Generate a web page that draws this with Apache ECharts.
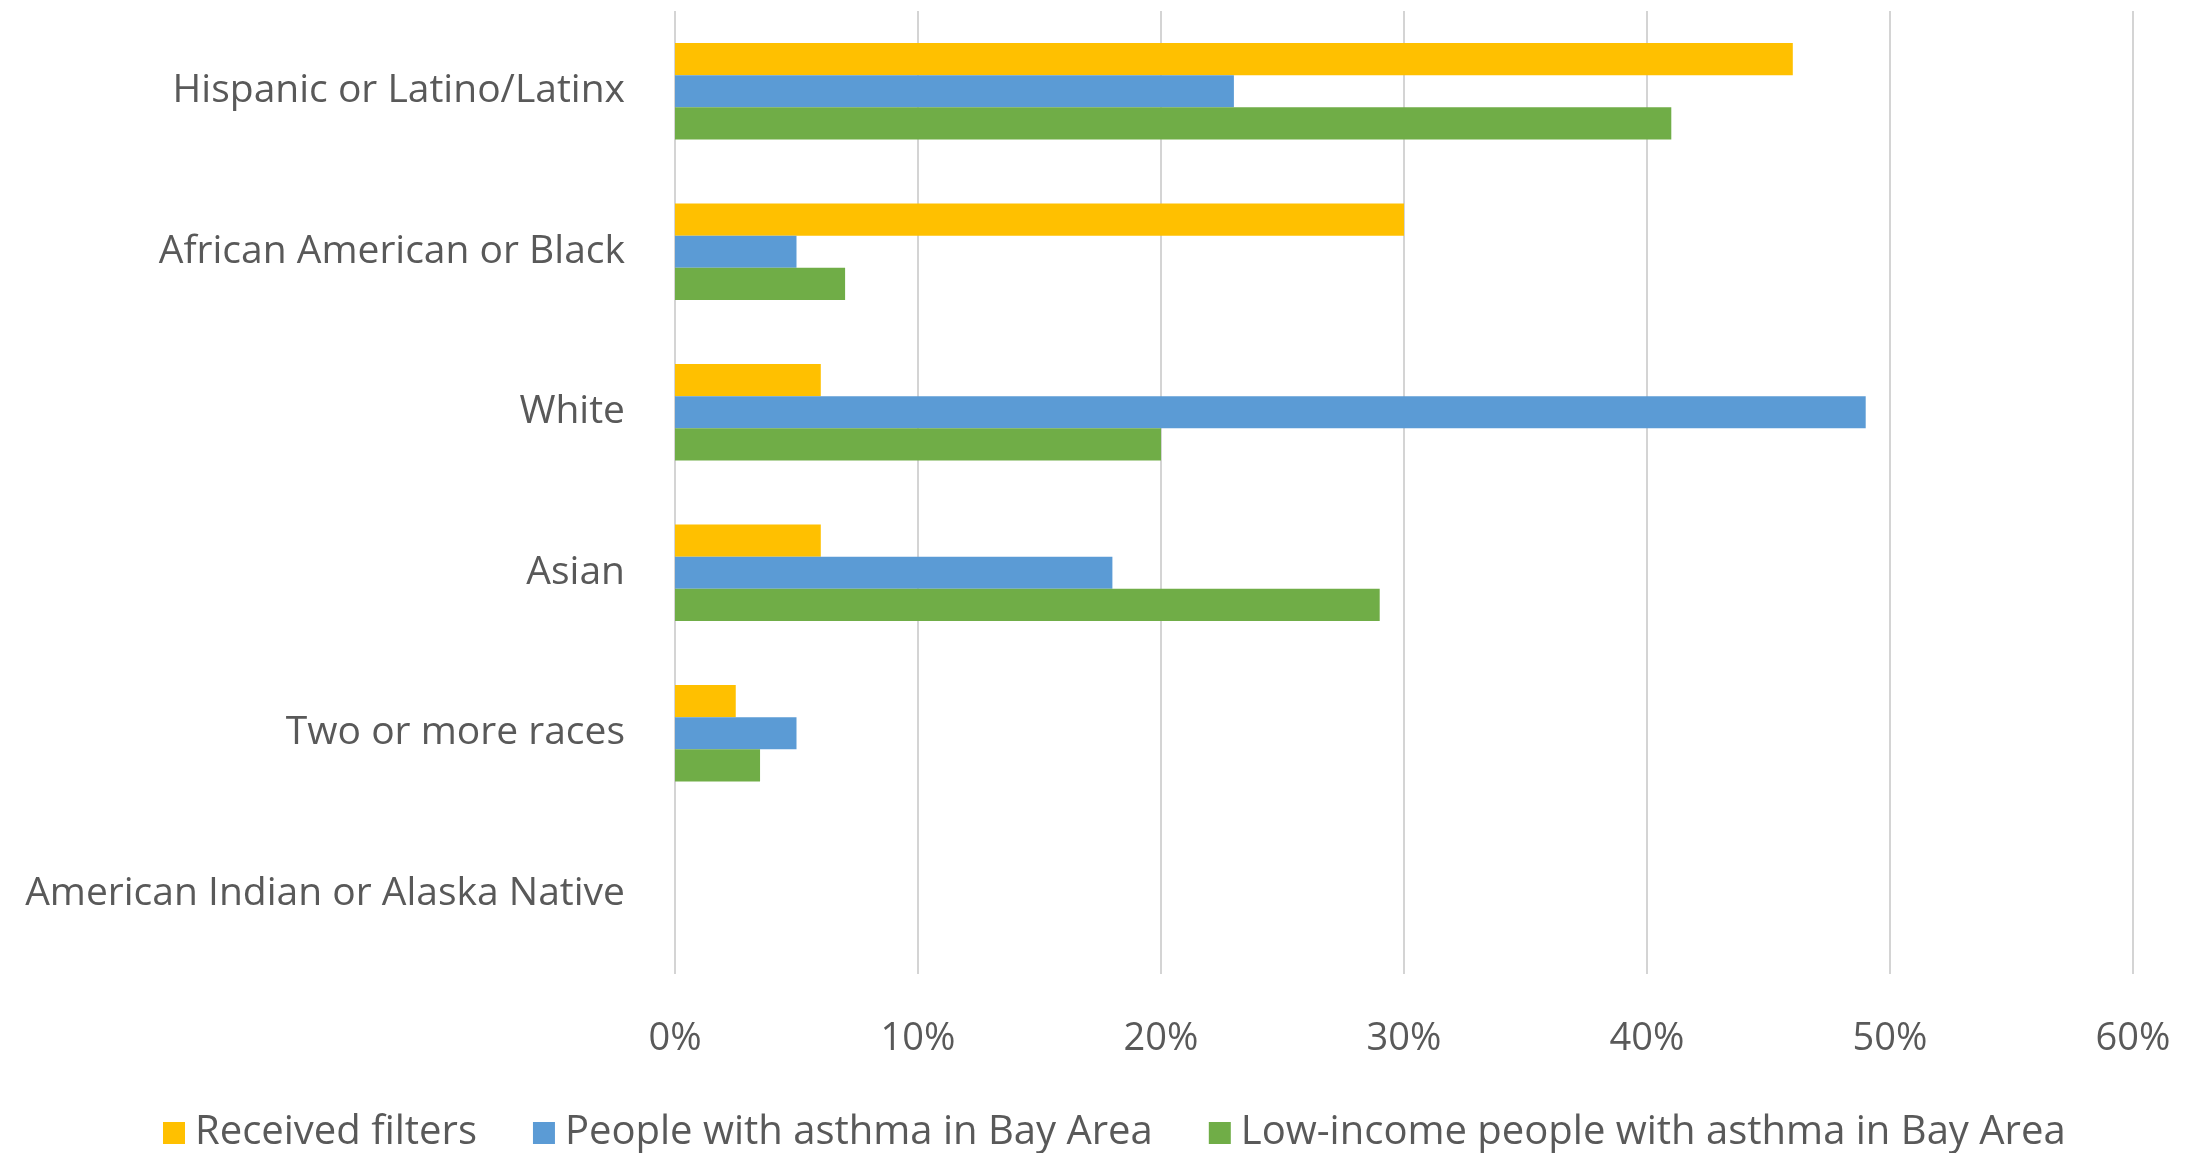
<!DOCTYPE html>
<html>
<head>
<meta charset="utf-8">
<title>Air filter distribution by race/ethnicity</title>
<script src="https://cdn.jsdelivr.net/npm/echarts@6/dist/echarts.min.js"></script>
<style>
  html, body { margin: 0; padding: 0; background: #ffffff; }
  #chart { width: 2203px; height: 1153px; }
</style>
</head>
<body>
<div id="chart"></div>
<script>
// Race / ethnicity groups, top to bottom
const categories = [
  'Hispanic or Latino/Latinx',
  'African American or Black',
  'White',
  'Asian',
  'Two or more races',
  'American Indian or Alaska Native'
];

// Shares in percent
const receivedFilters = [46, 30, 6, 6, 2.5, 0];
const asthmaBayArea = [23, 5, 49, 18, 5, 0];
const lowIncomeAsthmaBayArea = [41, 7, 20, 29, 3.5, 0];

const seriesNames = [
  'Received filters',
  'People with asthma in Bay Area',
  'Low-income people with asthma in Bay Area'
];
const xTicks = [0, 10, 20, 30, 40, 50, 60];

const colors = ['#FFC000', '#5B9BD5', '#70AD47'];
const textColor = '#595959';
const fontFamily = '"Open Sans", "Noto Sans", sans-serif';

const chart = echarts.init(document.getElementById('chart'), null, { renderer: 'canvas' });

const values = [receivedFilters, asthmaBayArea, lowIncomeAsthmaBayArea];

chart.setOption({
  backgroundColor: '#ffffff',
  animation: false,
  color: colors,
  textStyle: { fontFamily: fontFamily, color: textColor },
  grid: { left: 675, right: 70, top: 11, bottom: 179, containLabel: false },
  legend: {
    data: seriesNames,
    top: 1108,
    left: 158,
    itemWidth: 22,
    itemHeight: 22,
    itemGap: 56,
    icon: 'rect',
    textStyle: { fontSize: 40, color: textColor, fontFamily: fontFamily, padding: [0, 0, 0, 5] }
  },
  xAxis: {
    type: 'value',
    min: xTicks[0],
    max: xTicks[xTicks.length - 1],
    interval: 10,
    axisLine: { show: false },
    axisTick: { show: false },
    axisLabel: {
      formatter: v => v + '%',
      fontSize: 38,
      color: textColor,
      margin: 46
    },
    splitLine: { show: true, lineStyle: { color: '#d4d4d4', width: 2 } }
  },
  yAxis: {
    type: 'category',
    data: categories,
    inverse: true,
    axisLine: { show: false },
    axisTick: { show: false },
    splitLine: { show: false },
    axisLabel: {
      fontSize: 39,
      color: textColor,
      margin: 50
    }
  },
  series: seriesNames.map((name, i) => ({
    name: name,
    type: 'bar',
    data: values[i],
    barGap: '0%',
    barCategoryGap: '40%',
    itemStyle: { color: colors[i] }
  }))
});
</script>
</body>
</html>
